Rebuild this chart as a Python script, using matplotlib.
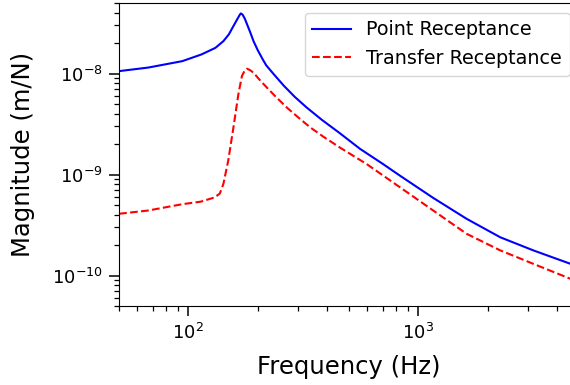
import numpy as np
import matplotlib
matplotlib.use("Agg")
from matplotlib import pyplot as plt

# values
freq_point = [50, 67, 94, 114, 131, 142, 150, 157, 163, 167, 169, 172, 176, 180,
              186, 192, 200, 210, 218, 234, 260, 290, 327, 380, 457, 558, 700,
              832, 1160, 1620, 2270, 3160, 5000]
mag_point = [1.06e-8, 1.15e-8, 1.33e-8, 1.55e-8, 1.8e-8, 2.1e-8, 2.45e-8,
             2.96e-8, 3.45e-8, 3.8e-8, 3.95e-8, 3.85e-8, 3.5e-8, 3.08e-8,
             2.55e-8, 2.1e-8, 1.72e-8, 1.4e-8, 1.21e-8, 1.0e-8, 7.6e-9, 5.9e-9,
             4.62e-9, 3.5e-9, 2.56e-9, 1.8e-9, 1.28e-9, 9.77e-10, 5.89e-10,
             3.66e-10, 2.4e-10, 1.78e-10, 1.22e-10]

freq_transfer = [50, 67, 94, 113, 130, 137, 142, 149, 157, 165, 171, 176, 180,
                 186, 192, 205, 218, 240, 268, 300, 338, 386, 457, 597, 832,
                 1160, 1620, 2270, 3160, 5000]
mag_transfer = [4.1e-10, 4.42e-10, 5.1e-10, 5.4e-10, 5.95e-10, 6.5e-10,
                8.1e-10, 1.37e-9, 2.93e-9, 6.27e-9, 9.5e-9, 1.08e-8, 1.12e-8,
                1.08e-8, 1.02e-8, 8.6e-9, 7.4e-9, 5.9e-9, 4.62e-9, 3.7e-9,
                2.95e-9, 2.38e-9, 1.85e-9, 1.27e-9, 7.5e-10, 4.42e-10, 2.6e-10,
                1.78e-10, 1.31e-10, 8.6e-11]

fig = plt.figure(figsize=(5.7, 3.85), dpi=100)
ax = fig.add_axes([0.209, 0.205, 0.807, 0.787])

ax.loglog(freq_point, mag_point, 'b-', lw=1.5, label='Point Receptance')
ax.loglog(freq_transfer, mag_transfer, 'r--', lw=1.5, label='Transfer Receptance')

ax.set_xlim(50, 5000)
ax.set_ylim(5e-11, 5e-8)
ax.set_xlabel('Frequency (Hz)', fontsize=17.5, labelpad=9)
ax.set_ylabel('Magnitude (m/N)', fontsize=17.5, labelpad=12)
ax.tick_params(axis='both', which='major', labelsize=13, length=7, width=1.1, pad=5)
ax.tick_params(axis='both', which='minor', length=3.6, width=0.9)
ax.legend(loc='upper right', fontsize=13.8)

plt.savefig('out.png', dpi=100)
